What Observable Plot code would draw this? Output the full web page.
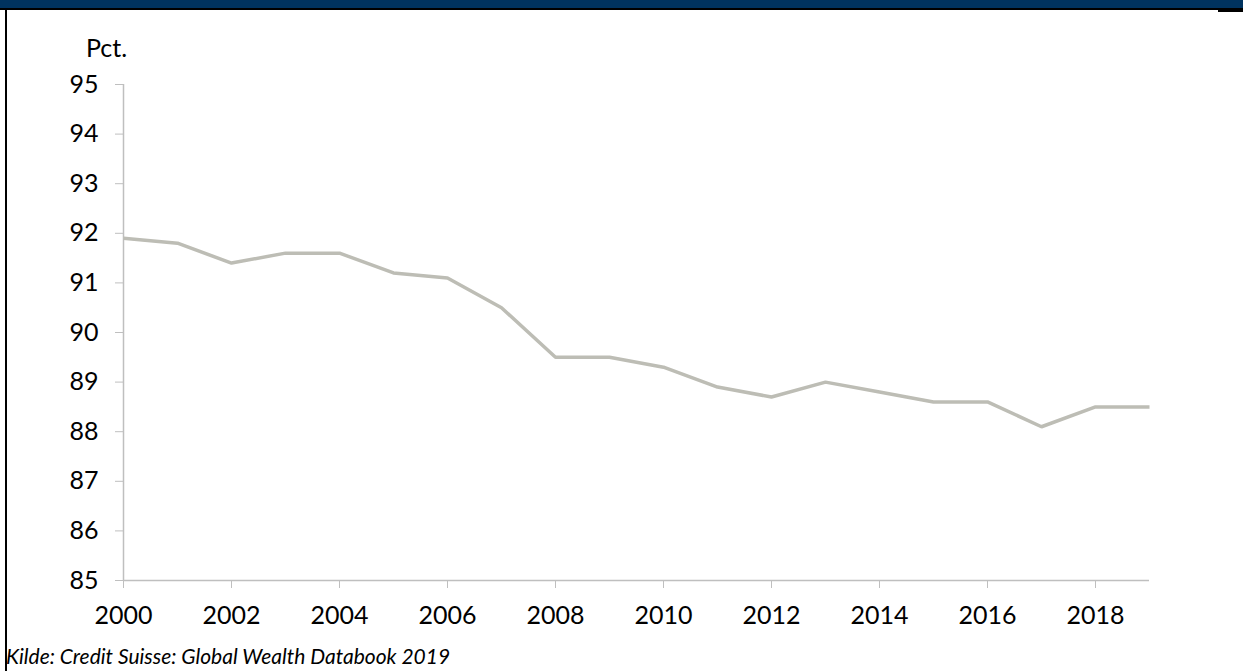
<!DOCTYPE html>
<html>
<head>
<meta charset="utf-8">
<script src="https://cdn.jsdelivr.net/npm/d3@7"></script>
<script src="https://cdn.jsdelivr.net/npm/@observablehq/plot@0.6"></script>
<style>
  html, body { margin: 0; padding: 0; background: #fff; overflow: hidden; }
  body { width: 1243px; height: 671px; position: relative; font-family: Lato, "Open Sans", sans-serif; }
  #banner { position: absolute; left: 0; top: 0; width: 1243px; height: 8px; background: #00335f; border-bottom: 2px solid #000; }
  #rightmark { position: absolute; left: 1218px; top: 9px; width: 25px; height: 3px; background: #000; }
  #leftborder { position: absolute; left: 5px; top: 8px; width: 2px; height: 663px; background: #000; }
  #chart { position: absolute; left: 0; top: 0; }
  #chart svg text { font-size: 25px !important; fill: #000; }
  #ylabel { position: absolute; left: 86px; top: 32px; font-size: 25px; line-height: 30px; color: #000; }
  #caption { position: absolute; left: 6px; top: 643px; font-size: 21px; font-style: italic; color: #000; white-space: nowrap; }
</style>
</head>
<body>
<div id="banner"></div>
<div id="rightmark"></div>
<div id="leftborder"></div>
<div id="chart"></div>
<div id="ylabel">Pct.</div>
<div id="caption">Kilde: Credit Suisse: Global Wealth Databook 2019</div>
<script>
const years = [2000,2001,2002,2003,2004,2005,2006,2007,2008,2009,2010,2011,2012,2013,2014,2015,2016,2017,2018,2019];
const values = [91.9,91.8,91.4,91.6,91.6,91.2,91.1,90.5,89.5,89.5,89.3,88.9,88.7,89.0,88.8,88.6,88.6,88.1,88.5,88.5];
const xTicks = [2000,2002,2004,2006,2008,2010,2012,2014,2016,2018];
const yTicks = [85,86,87,88,89,90,91,92,93,94,95];

const data = years.map((y, i) => ({year: y, value: values[i]}));

const chart = Plot.plot({
  width: 1243,
  height: 640,
  marginLeft: 123,
  marginRight: 94,
  marginTop: 84,
  marginBottom: 60,
  style: {fontFamily: "Lato, 'Open Sans', sans-serif", fontSize: "25px", color: "#000", background: "transparent"},
  x: {domain: [2000, 2019], ticks: xTicks, tickFormat: d => String(d), label: null},
  y: {domain: [85, 95], ticks: yTicks, label: null},
  marks: [
    Plot.axisY({ticks: yTicks, tickSize: 8, tickPadding: 17, stroke: "#bfbfbf", label: null, tickFormat: d => String(d)}),
    Plot.axisX({ticks: xTicks, tickSize: 8, tickPadding: 18, stroke: "#bfbfbf", label: null, tickFormat: d => String(d)}),
    Plot.ruleX([2000], {stroke: "#bfbfbf", strokeWidth: 1.5}),
    Plot.ruleY([85], {stroke: "#bfbfbf", strokeWidth: 1.5}),
    Plot.line(data, {x: "year", y: "value", stroke: "#bdbdb5", strokeWidth: 3.5, strokeLinejoin: "miter", strokeLinecap: "butt"})
  ]
});
document.getElementById("chart").appendChild(chart);
</script>
</body>
</html>
